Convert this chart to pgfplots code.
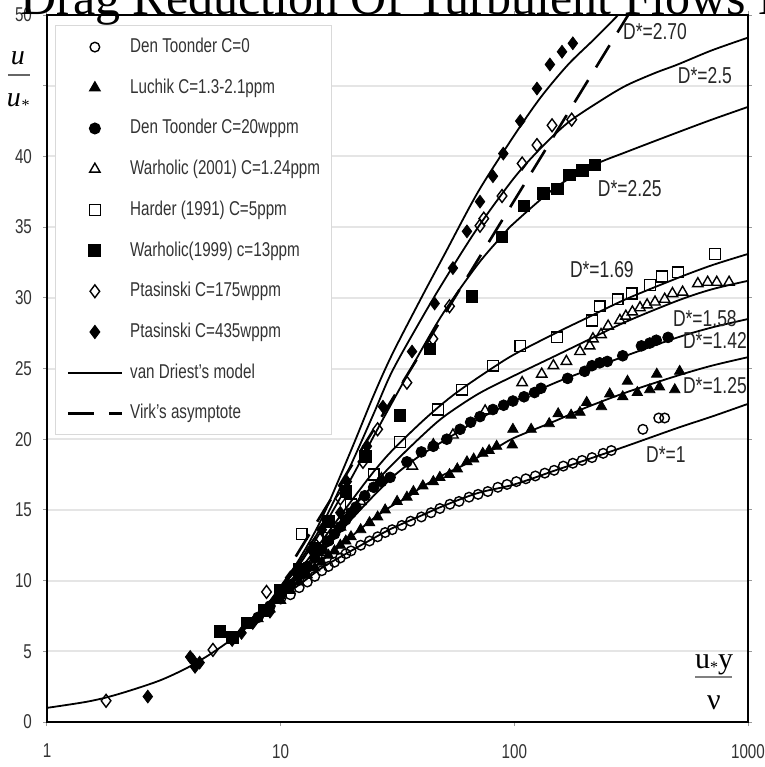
\documentclass[border=0pt]{standalone}
\usepackage{fontspec}
\setmainfont{Liberation Sans}[FakeStretch=0.76]
\newfontfamily\serif{Liberation Serif}
\usepackage{pgfplots}
\pgfplotsset{compat=1.18}
\begin{document}
\begin{tikzpicture}
\begin{axis}[
  scale only axis, width=350.5pt, height=353.5pt,
  xmode=log, xmin=1, xmax=1000, ymin=0, ymax=50,
  xtick={1,10,100,1000}, xticklabels={1,10,100,1000},
  xminorticks=false,
  ytick={0,5,...,50}, yticklabels={0,5,10,15,20,25,30,35,40,,50},
  ymajorgrids, major grid style={draw=black!10, line width=1pt},
  axis line style={line width=1.2pt},
  every tick/.style={black!40, line width=0.5pt},
  tick align=outside, major tick length=2pt,
  ticklabel style={font=\fontsize{10}{12}\selectfont, text=black!80},
  /pgf/number format/assume math mode=true,
  xticklabel style={yshift=-5.5pt},
  yticklabel style={xshift=-2pt},
  legend image code/.code={\path[draw=none,fill=none] (0pt,-3pt) rectangle (27pt,3pt);
     \draw[mark repeat=2,mark phase=2,#1] plot coordinates {(0pt,0pt) (13.5pt,0pt) (27pt,0pt)};},
  legend cell align=left,
  legend style={at={(0.0114,0.9859)}, anchor=north west, draw=black!15, line width=0.6pt,
     fill=white, inner xsep=5.5pt, inner ysep=6pt, row sep=10.85pt, column sep=3.5pt,
     font=\fontsize{10}{12}\selectfont, text=black!80,
     nodes={inner sep=0pt, text height=7.5pt, text depth=2pt}},
]
% ---------------- data markers ----------------
\addplot[only marks, mark=o, mark size=2.4pt, mark options={black, line width=0.7pt}] coordinates {
(10,8.7)(11,9.0)(12,9.5)(13,9.9)(14,10.3)(15,10.7)(16,11.0)(17,11.3)(18,11.6)(19,11.9)(20,12.1)
(22,12.5)(24,12.8)(26,13.1)(28,13.4)(30,13.6)(33,13.9)(36,14.2)(40,14.5)(44,14.8)(48,15.1)
(53,15.4)(58,15.6)(64,15.9)(70,16.1)(77,16.3)(85,16.6)(93,16.8)(102,17.0)(112,17.2)(123,17.4)
(135,17.6)(148,17.8)(162,18.1)(178,18.3)(195,18.5)(215,18.7)(240,19.0)(260,19.2)
(355,20.7)(415,21.5)(440,21.5)};
\addlegendentry{Den Toonder C=0}
\addplot[only marks, mark=triangle*, mark size=3pt, mark options={black, fill=black}] coordinates {
(8,7.3)(9,8.0)(10,8.6)(11,9.3)(12,9.9)(13,10.4)(14,10.9)(15,11.3)(16,11.8)(17,12.1)(18,12.5)
(19,12.8)(20,13.1)(22,13.6)(24,14.1)(26,14.5)(28,15.0)(31.5,15.6)(34.7,15.9)(37,16.3)(40.6,16.7)
(45,17.0)(48,17.3)(52.8,17.5)(57,17.9)(62.7,18.4)(67,18.6)(73.3,19.0)(78,19.2)(84,19.5)
(98,19.6)(98.6,20.7)(118,20.7)(141,21.1)(154,21.8)(175,21.7)(191,21.9)(204,22.6)(236,22.3)
(256,23.2)(291,23.0)(305,24.1)(336,23.3)(380,23.5)(407,24.6)(418,23.7)(486,23.5)(510,24.8)};
\addlegendentry{Luchik C=1.3-2.1ppm}
\addplot[only marks, mark=*, mark size=2.7pt, mark options={black, fill=black}] coordinates {
(8,7.4)(9,8.2)(10,9.0)(11,9.7)(12,10.4)(13,11.0)(14,11.6)(15,12.2)(16,12.8)(17,13.3)(18,13.8)
(19,14.3)(20,14.8)(21,15.2)(22.9,16.0)(25,16.6)(27,17.0)(29.4,17.3)(34.7,18.4)(40,19.1)(45,19.5)
(51.4,20.0)(58.6,20.7)(65,21.2)(71.3,21.6)(81,22.1)(90,22.4)(98.6,22.7)(110,23.0)(122,23.3)
(130,23.6)(169,24.3)(200,24.8)(215,25.2)(232,25.4)(250,25.5)(291,25.9)(350,26.6)(380,26.8)
(405,27.0)(455,27.2)};
\addlegendentry{Den Toonder C=20wppm}
\addplot[only marks, mark=triangle, mark size=3pt, mark options={black, line width=0.7pt}] coordinates {
(12,10.6)(15,12.0)(18,13.8)(22,15.6)(27,17.2)(36.6,18.1)(45,19.6)(54.6,20.3)(75,22.0)(108,24.0)
(131,24.6)(147,25.2)(167,25.5)(191,26.2)(210,26.6)(217,27.1)(235,27.4)(252,28.0)(283,28.4)
(300,28.7)(320,29.0)(345,29.3)(370,29.5)(400,29.7)(440,29.9)(475,30.3)(525,30.4)(610,31.0)
(672,31.1)(735,31.1)(830,31.1)};
\addlegendentry{Warholic (2001) C=1.24ppm}
\addplot[only marks, mark=square, mark size=2.7pt, mark options={black, line width=0.7pt}] coordinates {
(12.3,13.3)(16,13.0)(20,15.4)(25,17.5)(32.4,19.8)(47.1,22.1)(59.7,23.5)(81,25.2)(106,26.6)
(152,27.2)(215,28.4)(232,29.4)(277,29.9)(318,30.3)(380,30.9)(428,31.5)(501,31.8)(722,33.1)};
\addlegendentry{Harder (1991) C=5ppm}
\addplot[only marks, mark=square*, mark size=2.9pt, mark options={black, fill=black}] coordinates {
(5.5,6.4)(6.2,6.0)(7.2,7.0)(8.5,7.9)(10,9.3)(12,10.8)(14,12.3)(16,14.2)(19,16.3)(23,18.8)
(32.4,21.7)(43.6,26.4)(65.8,30.1)(88.6,34.3)(110,36.5)(133,37.4)(153,37.7)(172,38.7)(196,39.0)(221,39.4)};
\addlegendentry{Warholic(1999) c=13ppm}
\addplot[only marks, mark=diamond, mark size=3.2pt, mark options={black, line width=0.7pt}] coordinates {
(1.79,1.5)(5.13,5.1)(8.7,9.2)(11,10.2)(14,12.6)(18,15.8)(22.5,18.4)(26,20.7)(34.7,24.0)(44.8,27.1)
(52.8,29.4)(71.3,35.1)(74,35.6)(88.6,37.2)(108,39.5)(125,40.8)(145,42.2)(176,42.6)};
\addlegendentry{Ptasinski C=175wppm}
\addplot[only marks, mark=diamond*, mark size=3.2pt, mark options={black, fill=black}] coordinates {
(2.7,1.8)(4.2,4.4)(4.3,3.9)(4.1,4.6)(4.5,4.2)(6.2,5.8)(6.8,6.3)(7.6,7.0)(9,7.8)(10,9.0)(12,10.8)
(13.5,12.2)(15,13.6)(18,14.8)(19.2,17.0)(23.4,19.5)(27.4,22.3)(36.5,26.2)(45.6,29.6)(54.6,32.1)
(62.7,34.7)(71.3,36.8)(81,38.6)(89.7,40.2)(106,42.5)(125,44.8)(142,46.5)(160,47.4)(178,48.0)};
\addlegendentry{Ptasinski C=435wppm}
% ---------------- van Driest curves ----------------
\addplot[black, line width=0.9pt, smooth] coordinates {
(1,1.0)(1.5,1.45)(2,1.95)(3,2.9)(4,3.85)(5,4.8)(6,5.7)(7,6.55)(8,7.4)
(10,8.8)(12,9.7)(15,10.9)(20,12.1)(25,13.0)(30,13.7)(40,14.6)(50,15.3)(70,16.2)(100,16.8)
(150,17.8)(200,18.5)(300,19.5)(500,20.8)(700,21.6)(1000,22.5)};
\addlegendentry{van Driest's model}
\addplot[black, line width=0.9pt, smooth, forget plot] coordinates {
(8,7.4)(10,8.9)(12,10.0)(15,11.4)(20,13.1)(25,14.4)(30,15.3)(35,15.9)(40,16.6)(50,17.5)(63,18.3)
(73,18.9)(84,19.4)(100,20.1)(150,21.3)(200,22.2)(300,23.3)(500,24.5)(700,25.2)(1000,25.8)};
\addplot[black, line width=0.9pt, smooth, forget plot] coordinates {
(8,7.4)(10,9.0)(12,10.3)(15,12.0)(20,14.3)(25,16.0)(30,17.3)(35,18.2)(40,18.9)(50,19.9)(60,20.7)
(70,21.4)(100,22.7)(150,24.0)(200,24.8)(300,25.9)(500,27.2)(700,27.9)(1000,28.5)};
\addplot[black, line width=0.9pt, smooth, forget plot] coordinates {
(8,7.4)(10,9.1)(12,10.5)(15,12.4)(20,15.0)(25,16.8)(30,18.2)(40,20.2)(50,21.6)(70,23.2)(100,24.5)
(150,25.9)(200,26.9)(300,28.3)(500,29.8)(700,30.6)(1000,31.2)};
\addplot[black, line width=0.9pt, smooth, forget plot] coordinates {
(8,7.4)(10,9.2)(12,10.7)(15,12.8)(20,15.6)(25,17.7)(30,19.2)(40,21.2)(50,22.6)(60,23.6)(80,25.0)
(100,26.0)(150,27.5)(200,28.5)(300,29.9)(500,31.4)(700,32.3)(1000,33.1)};
\addplot[black, line width=0.9pt, smooth, forget plot] coordinates {
(8,7.4)(10,9.4)(12,11.1)(15,13.6)(20,17.2)(25,20.2)(30,22.6)(40,26.3)(50,29.0)(70,32.4)(90,34.5)
(100,35.3)(150,37.8)(220,39.4)(300,40.3)(500,41.7)(700,42.6)(1000,43.5)};
\addplot[black, line width=0.9pt, smooth, forget plot] coordinates {
(8,7.4)(10,9.5)(12,11.3)(15,13.9)(20,18.2)(25,21.8)(30,24.8)(40,28.5)(50,31.2)(70,35.0)(100,38.5)
(130,40.6)(170,42.4)(232,43.9)(300,45.0)(400,45.9)(500,46.5)(700,47.5)(1000,48.4)};
\addplot[black, line width=0.9pt, smooth, forget plot] coordinates {
(8,7.4)(10,9.6)(12,11.5)(15,14.4)(20,19.2)(25,23.1)(30,26.0)(40,30.0)(50,33.0)(70,37.5)(100,41.5)
(130,44.2)(170,46.5)(220,48.3)(290,50.3)};
% ---------------- Virk ----------------
\addplot[black, line width=1.3pt, dash pattern=on 13pt off 7.5pt] coordinates {(11.6,11.7)(307,50.0)};
\addlegendentry{Virk's asymptote}
% ---------------- curve labels ----------------
\begin{scope}[every node/.style={font=\fontsize{11.5}{12}\selectfont, text=black!85, inner sep=0pt}]
\node at (axis cs:400,48.8) {D*=2.70};
\node at (axis cs:654,45.7) {D*=2.5};
\node at (axis cs:312,37.7) {D*=2.25};
\node at (axis cs:237,32.0) {D*=1.69};
\node at (axis cs:654,28.5) {D*=1.58};
\node at (axis cs:722,26.95) {D*=1.42};
\node at (axis cs:722,23.8) {D*=1.25};
\node at (axis cs:445,18.9) {D*=1};
\end{scope}
\end{axis}
% axis labels
\node[anchor=base, inner sep=0pt, font=\serif\itshape\fontsize{14}{14}\selectfont] at (-14.5pt,328.5pt) {u};
\draw[black!60, line width=0.6pt] (-19.5pt,323.5pt) -- (-8.5pt,323.5pt);
\node[anchor=base, inner sep=0pt, font=\serif\itshape\fontsize{14}{14}\selectfont] at (-14.5pt,307.5pt) {u\raisebox{-2pt}{\fontsize{8}{8}\selectfont *}};
\node[anchor=base, inner sep=0pt, font=\serif\fontsize{15}{15}\selectfont] at (333.5pt,27pt) {u\raisebox{-2pt}{\fontsize{8}{8}\selectfont *}y};
\draw[black!50, line width=0.7pt] (324pt,22.5pt) -- (342.5pt,22.5pt);
\node[anchor=base, inner sep=0pt, font=\serif\fontsize{15}{15}\selectfont] at (333.5pt,6pt) {ν};
% clipped title
\node[anchor=base west, inner sep=0pt, font=\serif\fontsize{25}{25}\selectfont] at (-13.5pt,353.5pt) {Drag Reduction Of Turbulent Flows By Polymers};
\pgfresetboundingbox
\useasboundingbox (-23.5pt,-22.5pt) rectangle (359pt,361pt);
\end{tikzpicture}
\end{document}
